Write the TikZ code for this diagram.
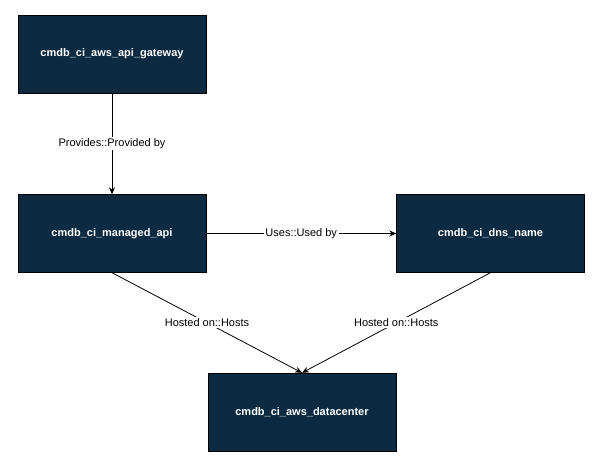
\documentclass[tikz,border=0pt]{standalone}
\usepackage{fontspec}
\setmainfont{Liberation Sans}
\usetikzlibrary{positioning}
\usetikzlibrary{arrows.meta}
\definecolor{NAVY}{HTML}{0C2B42}
\tikzset{
	every node/.style = {font=\fontsize{11}{13}\selectfont},
	ci/.style = {fill=NAVY, draw=black, minimum width=188pt, minimum height=78pt,
	             text=white, font=\fontsize{11}{13}\selectfont\bfseries},
	rel/.style = {-{Stealth[length=7pt,width=6pt]}, thick},
	lbl/.style = {fill=white, inner sep=1.5pt}
}
\begin{document}
\begin{tikzpicture}[x=1pt, y=-1pt]
		\useasboundingbox (0,0) rectangle (600,467);
		% configuration items
		\node[ci] (gateway) at (112,54) {cmdb\_ci\_aws\_api\_gateway};
		\node[ci] (managed) at (112,233.5) {cmdb\_ci\_managed\_api};
		\node[ci] (dns) at (490.5,233.5) {cmdb\_ci\_dns\_name};
		\node[ci] (datacenter) at (302,412) {cmdb\_ci\_aws\_datacenter};
		% relations
		\draw[rel] (gateway) -- node[lbl] {Provides::Provided by} (managed);
		\draw[rel] (managed) -- node[lbl] {Uses::Used by} (dns);
		\draw[rel] (managed.south) -- node[lbl, pos=.5] {Hosted on::Hosts} (datacenter.north);
		\draw[rel] (dns.south) -- node[lbl, pos=.5] {Hosted on::Hosts} (datacenter.north);
	\end{tikzpicture}
\end{document}
